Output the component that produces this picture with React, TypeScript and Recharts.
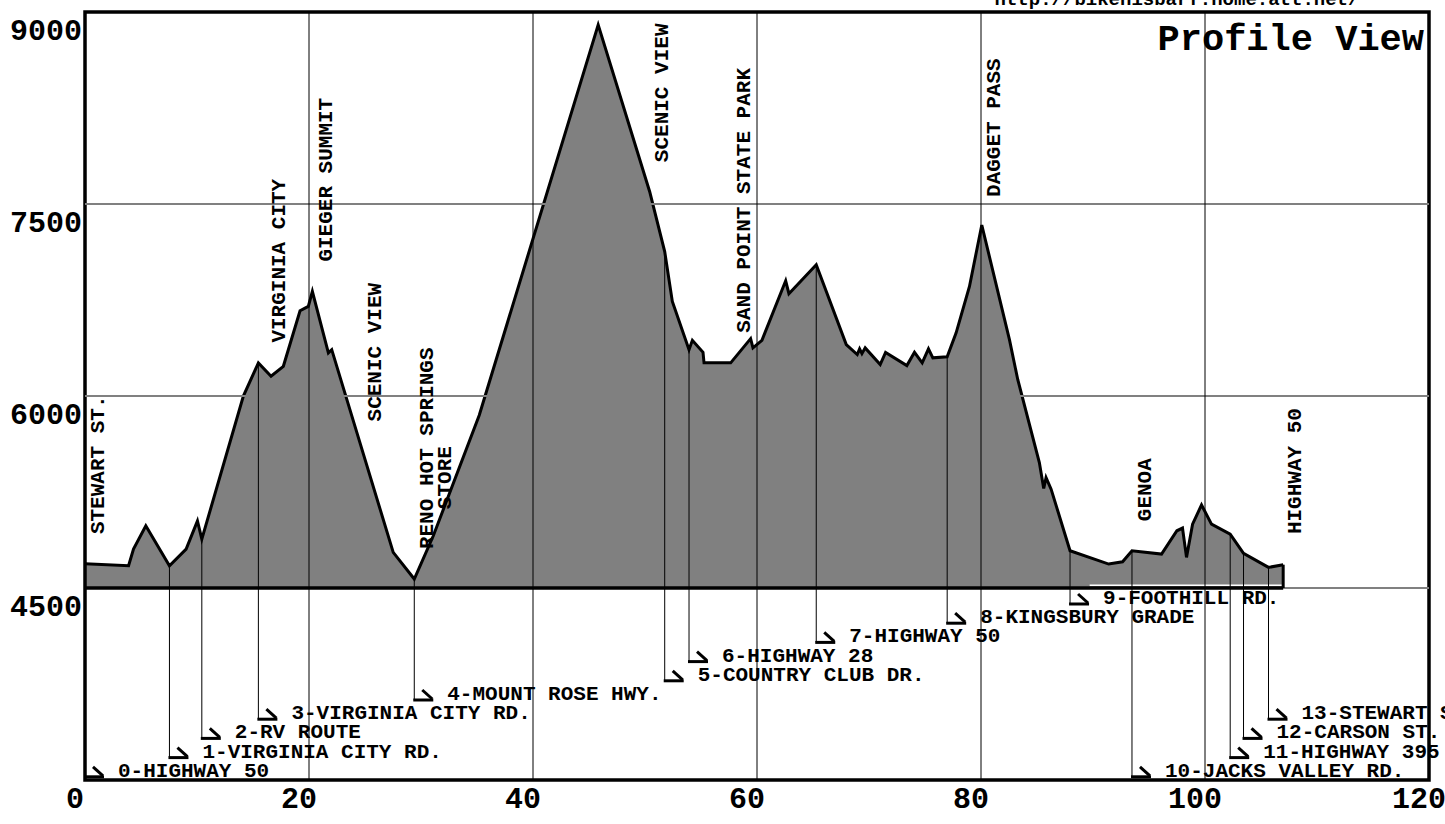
import React from 'react';
import { ComposedChart, Area, XAxis, YAxis, ReferenceLine, ReferenceArea, Scatter } from 'recharts';

// profile: distance (miles) / elevation (ft)
const DISTANCE = [
  0, 3.89, 4.33, 5.43, 7.54, 9.03, 10.04, 10.43, 14.14, 15.48, 16.61, 17.71, 19.2, 19.94, 20.3,
  21.73, 22.03, 27.52, 29.4, 31.1, 35.2, 45.82, 50.42, 51.76, 52.44, 53.93, 54.23, 55.18, 55.27,
  57.65, 59.43, 59.64, 60.44, 62.56, 62.85, 65.29, 67.97, 68.95, 69.16, 69.37, 69.66, 71.0, 71.48,
  73.38, 74.06, 74.75, 75.31, 75.7, 76.98, 77.78, 78.97, 80.07, 82.54, 83.28, 85.21, 85.6, 85.81,
  86.26, 87.95, 91.4, 92.64, 93.48, 96.12, 97.49, 97.99, 98.35, 98.89, 99.69, 100.58, 102.25,
  103.44, 105.67, 106.98,
];
const ELEVATION = [
  4690, 4674, 4804, 4986, 4674, 4804, 5024, 4882, 5999, 6259, 6154, 6232, 6666, 6700, 6817,
  6337, 6362, 4778, 4570, 4908, 5850, 8900, 7596, 7128, 6739, 6362, 6435, 6341, 6259,
  6259, 6448, 6376, 6435, 6900, 6799, 7025, 6402, 6324, 6368, 6331, 6376, 6246, 6341,
  6238, 6341, 6259, 6368, 6298, 6306, 6493, 6856, 7336, 6440, 6129, 5480, 5277, 5363,
  5272, 4791, 4687, 4705, 4791, 4765, 4947, 4968, 4739, 4999, 5149, 4999, 4921,
  4771, 4661, 4682,
];

// numbered waypoints (index into profile) and the row their label sits on
const MARKER_INDEX = [0, 4, 7, 9, 18, 23, 25, 35, 48, 58, 61, 69, 70, 71];
const MARKER_LEVEL = [3025, 3175, 3325, 3475, 3625, 3775, 3925, 4075, 4225, 4375, 3025, 3175, 3325, 3475];
const MARKER_NAMES = [
  '0-HIGHWAY 50', '1-VIRGINIA CITY RD.', '2-RV ROUTE', '3-VIRGINIA CITY RD.', '4-MOUNT ROSE HWY.',
  '5-COUNTRY CLUB DR.', '6-HIGHWAY 28', '7-HIGHWAY 50', '8-KINGSBURY GRADE', '9-FOOTHILL RD.',
  '10-JACKS VALLEY RD.', '11-HIGHWAY 395', '12-CARSON ST.', '13-STEWART ST.',
];

// vertical place names: x, elevation where the text starts
const PLACE_NAMES = [
  'STEWART ST.', 'VIRGINIA CITY', 'GIEGER SUMMIT', 'SCENIC VIEW', 'RENO HOT SPRINGS', 'STORE',
  'SCENIC VIEW', 'SAND POINT STATE PARK', 'DAGGET PASS', 'GENOA', 'HIGHWAY 50',
];
const PLACE_X = [1.09, 17.28, 21.43, 25.89, 30.5, 32.14, 51.47, 58.75, 81.16, 94.58, 107.96];
const PLACE_Y = [4921, 6417, 7050, 5801, 4804, 5116, 7827, 6495, 7555, 5022, 4921];

const X_TICKS = [0, 20, 40, 60, 80, 100, 120];
const Y_TICKS = [4500, 6000, 7500, 9000];
const V_GRID = [20, 40, 60, 80, 100];

const FONT = "'Courier New', 'Liberation Mono', monospace";
const TICK_FONT = "'Liberation Mono', monospace";

const profile = DISTANCE.map((x, i) => ({ x, elev: ELEVATION[i] }));
const markers = MARKER_INDEX.map((idx, i) => ({
  x: DISTANCE[idx],
  elev: ELEVATION[idx],
  level: MARKER_LEVEL[i],
  name: MARKER_NAMES[i],
}));
const places = PLACE_NAMES.map((name, i) => ({ x: PLACE_X[i], y: PLACE_Y[i], name }));
const lastX = DISTANCE[DISTANCE.length - 1];
const lastY = ELEVATION[ELEVATION.length - 1];

function MarkerShape(props: any) {
  const { cx, cy, payload } = props;
  return (
    <g>
      <line x1={cx - 1} y1={cy} x2={cx + 19} y2={cy} stroke="#000" strokeWidth={3} />
      <line x1={cx + 8} y1={cy - 10} x2={cx + 18} y2={cy - 1} stroke="#000" strokeWidth={3} />
      <text x={cx + 33} y={cy} fontFamily={FONT} fontWeight="bold" fontSize={21} fill="#000">
        {payload.name}
      </text>
    </g>
  );
}

function PlaceShape(props: any) {
  const { cx, cy, payload } = props;
  return (
    <text
      transform={`translate(${cx + 6.5},${cy}) rotate(-90)`}
      fontFamily={FONT}
      fontWeight="bold"
      fontSize={21}
      fill="#000"
    >
      {payload.name}
    </text>
  );
}

function XTick(props: any) {
  const { x, y, payload } = props;
  return (
    <text x={x - 10} y={y + 28} textAnchor="middle" fontFamily={TICK_FONT} fontWeight="bold" fontSize={30} fill="#000">
      {payload.value}
    </text>
  );
}

function YTick(props: any) {
  const { x, y, payload } = props;
  return (
    <text x={x} y={y + 28} textAnchor="end" fontFamily={TICK_FONT} fontWeight="bold" fontSize={30} fill="#000">
      {payload.value}
    </text>
  );
}

export default function App() {
  return (
    <div style={{ position: 'absolute', left: 0, top: 0, width: 1445, height: 824, background: '#fff' }}>
      <ComposedChart width={1445} height={824} data={profile} margin={{ top: 12, right: 16, bottom: 0, left: 0 }}>
        <XAxis
          dataKey="x"
          type="number"
          domain={[0, 120]}
          ticks={X_TICKS}
          height={44}
          axisLine={false}
          tickLine={false}
          tickSize={0}
          tickMargin={0}
          tick={<XTick />}
          interval={0}
        />
        <YAxis
          type="number"
          domain={[3000, 9000]}
          ticks={Y_TICKS}
          width={85}
          axisLine={false}
          tickLine={false}
          tickSize={0}
          tickMargin={3}
          tick={<YTick />}
          interval={0}
        />
        <Area
          dataKey="elev"
          type="linear"
          baseValue={4500}
          stroke="#000"
          strokeWidth={3}
          fill="#808080"
          fillOpacity={1}
          dot={false}
          activeDot={false}
          isAnimationActive={false}
        />
        {Y_TICKS.filter((v) => v > 3000 && v < 9000).map((v) => (
          <ReferenceLine key={`h${v}`} y={v} stroke="#808080" strokeWidth={2} />
        ))}
        <ReferenceLine
          segment={[{ x: 89.7, y: 4521 }, { x: 106.9, y: 4521 }]}
          stroke="#fff"
          strokeWidth={1.5}
        />
        <ReferenceLine segment={[{ x: 0, y: 4500 }, { x: lastX, y: 4500 }]} stroke="#000" strokeWidth={3.5} />
        <ReferenceLine segment={[{ x: lastX, y: 4500 }, { x: lastX, y: lastY }]} stroke="#000" strokeWidth={3} />
        {V_GRID.map((v) => (
          <ReferenceLine key={`v${v}`} x={v} stroke="#000" strokeWidth={1} />
        ))}
        {markers.map((m, i) => (
          <ReferenceLine
            key={`m${i}`}
            segment={[{ x: m.x, y: m.elev }, { x: m.x, y: m.level }]}
            stroke="#000"
            strokeWidth={1}
          />
        ))}
        <Scatter data={markers} dataKey="level" shape={<MarkerShape />} isAnimationActive={false} legendType="none" />
        <Scatter data={places} dataKey="y" shape={<PlaceShape />} isAnimationActive={false} legendType="none" />
        <ReferenceArea x1={0} x2={120} y1={3000} y2={9000} fill="none" fillOpacity={0} stroke="#000" strokeWidth={3.5} />
      </ComposedChart>
      <svg width={1445} height={824} style={{ position: 'absolute', left: 0, top: 0, pointerEvents: 'none' }}>
        <text x={1177} y={5} textAnchor="middle" fontFamily={FONT} fontWeight="bold" fontSize={19} fill="#000">
          http://bikehisbarf.home.att.net/
        </text>
        <text x={1424} y={50} textAnchor="end" fontFamily={FONT} fontWeight="bold" fontSize={37} fill="#000">
          Profile View
        </text>
      </svg>
    </div>
  );
}
